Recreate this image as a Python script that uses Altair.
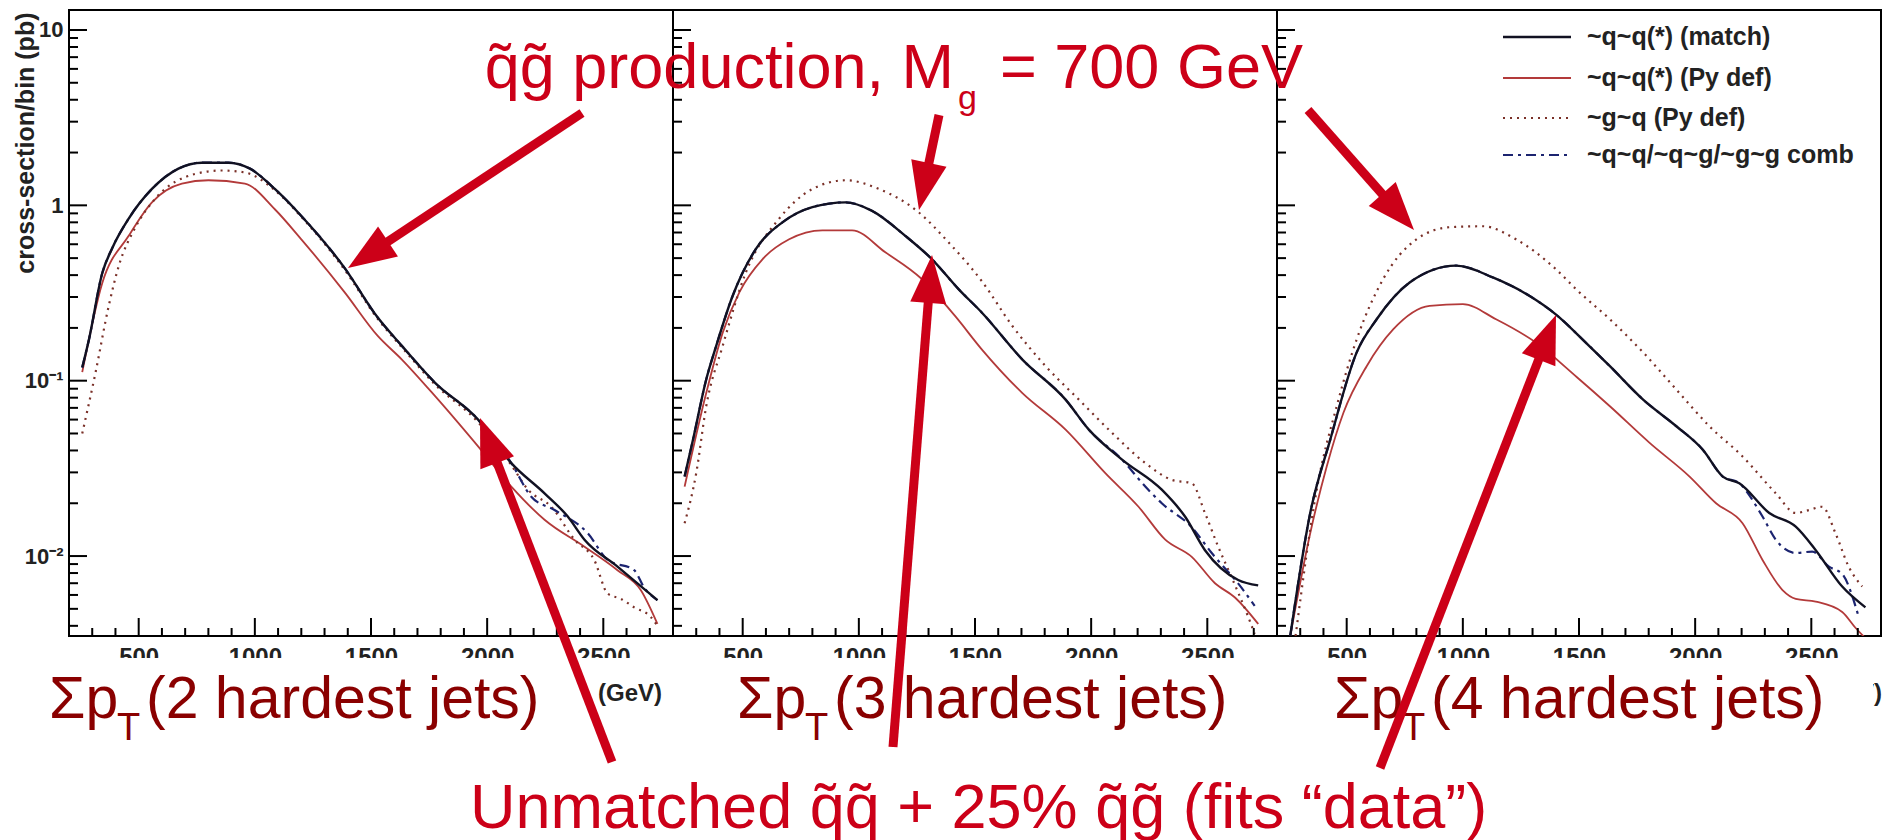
import math
import altair as alt
import pandas as pd

# ---------------- data ----------------
# Σp_T in GeV  ->  cross-section/bin in pb
# panel 0 : 2 hardest jets
match_2j_x = [257, 286, 343, 386, 457, 557, 671, 771, 886, 979, 1086, 1200, 1386, 1529, 1633, 1776, 1961, 2104, 2247, 2347, 2419, 2561, 2733]
match_2j_y = [0.119, 0.172, 0.41, 0.57, 0.84, 1.24, 1.62, 1.75, 1.75, 1.62, 1.24, 0.87, 0.44, 0.229, 0.158, 0.0973, 0.06, 0.0339, 0.0228, 0.0168, 0.0124, 0.0087, 0.0056]
pydef_2j_x = [257, 343, 457, 557, 686, 800, 957, 1086, 1200, 1386, 1529, 1633, 1776, 1961, 2104, 2247, 2419, 2561, 2661, 2733]
pydef_2j_y = [0.112, 0.36, 0.67, 1.04, 1.33, 1.39, 1.33, 0.95, 0.64, 0.32, 0.18, 0.132, 0.0816, 0.0422, 0.0249, 0.0161, 0.0113, 0.0083, 0.0064, 0.0041]
gq_2j_x = [257, 314, 371, 414, 486, 571, 743, 857, 957, 1086, 1200, 1386, 1529, 1633, 1776, 1961, 2104, 2176, 2276, 2376, 2461, 2519, 2576, 2633, 2704, 2733]
gq_2j_y = [0.05, 0.111, 0.267, 0.45, 0.75, 1.09, 1.51, 1.58, 1.54, 1.22, 0.86, 0.43, 0.225, 0.155, 0.095, 0.058, 0.033, 0.0239, 0.0191, 0.0124, 0.0095, 0.0061, 0.0057, 0.0051, 0.0045, 0.004]
comb_2j_x = [257, 286, 343, 386, 457, 557, 671, 771, 886, 979, 1086, 1200, 1386, 1529, 1633, 1776, 1961, 2104, 2190, 2290, 2433, 2519, 2633, 2676, 2733]
comb_2j_y = [0.119, 0.172, 0.41, 0.57, 0.84, 1.24, 1.62, 1.75, 1.75, 1.62, 1.24, 0.87, 0.44, 0.229, 0.158, 0.0973, 0.06, 0.0339, 0.0218, 0.0183, 0.0135, 0.0095, 0.0083, 0.0066, 0.0056]

# panel 1 : 3 hardest jets
match_3j_x = [250, 286, 343, 386, 457, 557, 671, 800, 943, 1057, 1200, 1314, 1429, 1529, 1704, 1890, 1990, 2133, 2304, 2404, 2490, 2633, 2719]
match_3j_y = [0.0284, 0.046, 0.1016, 0.158, 0.305, 0.564, 0.80, 0.977, 1.04, 0.93, 0.67, 0.494, 0.333, 0.245, 0.132, 0.078, 0.0526, 0.0355, 0.0239, 0.0168, 0.0108, 0.0073, 0.0068]
pydef_3j_x = [250, 343, 414, 486, 586, 700, 843, 971, 1114, 1271, 1414, 1529, 1704, 1890, 2061, 2204, 2319, 2433, 2533, 2619, 2719]
pydef_3j_y = [0.0249, 0.085, 0.188, 0.32, 0.494, 0.64, 0.72, 0.72, 0.54, 0.38, 0.234, 0.151, 0.085, 0.0526, 0.0297, 0.0191, 0.0124, 0.0099, 0.0070, 0.0058, 0.0041]
gq_3j_x = [250, 300, 343, 414, 514, 657, 800, 943, 1086, 1257, 1386, 1529, 1661, 1804, 1947, 2090, 2233, 2347, 2433, 2490, 2547, 2604, 2676, 2704]
gq_3j_y = [0.0154, 0.0297, 0.0715, 0.158, 0.415, 0.84, 1.24, 1.39, 1.24, 0.914, 0.615, 0.37, 0.205, 0.121, 0.078, 0.0504, 0.0339, 0.0272, 0.026, 0.0176, 0.0113, 0.0076, 0.0045, 0.0036]
comb_3j_x = [250, 286, 343, 386, 457, 557, 671, 800, 943, 1057, 1200, 1314, 1429, 1529, 1704, 1890, 1990, 2133, 2233, 2304, 2433, 2519, 2647, 2704]
comb_3j_y = [0.0284, 0.046, 0.1016, 0.158, 0.305, 0.564, 0.80, 0.977, 1.04, 0.93, 0.67, 0.494, 0.333, 0.245, 0.132, 0.078, 0.0526, 0.0355, 0.0249, 0.02, 0.0146, 0.0104, 0.0066, 0.0052]

# panel 2 : 4 hardest jets
match_4j_x = [257, 343, 429, 543, 629, 771, 971, 1129, 1286, 1400, 1529, 1633, 1776, 1919, 2033, 2119, 2190, 2319, 2433, 2519, 2633, 2733]
match_4j_y = [0.0035, 0.0176, 0.046, 0.145, 0.224, 0.363, 0.453, 0.388, 0.305, 0.239, 0.165, 0.121, 0.078, 0.055, 0.0404, 0.0284, 0.026, 0.0176, 0.0147, 0.0108, 0.0067, 0.0051]
pydef_4j_x = [257, 343, 414, 486, 586, 700, 857, 1000, 1143, 1314, 1490, 1633, 1804, 1976, 2090, 2204, 2290, 2376, 2433, 2519, 2633, 2690, 2733]
pydef_4j_y = [0.0035, 0.0135, 0.0324, 0.0656, 0.121, 0.196, 0.267, 0.273, 0.224, 0.165, 0.105, 0.0715, 0.0442, 0.0284, 0.02, 0.0154, 0.0095, 0.0064, 0.0057, 0.0055, 0.0048, 0.0039, 0.0034]
gq_4j_x = [280, 371, 457, 543, 657, 800, 943, 1086, 1229, 1400, 1490, 1633, 1776, 1919, 2061, 2204, 2347, 2433, 2490, 2547, 2604, 2661, 2719]
gq_4j_y = [0.0035, 0.0239, 0.0715, 0.172, 0.38, 0.64, 0.75, 0.76, 0.64, 0.433, 0.33, 0.224, 0.145, 0.089, 0.055, 0.037, 0.0228, 0.0176, 0.0183, 0.0191, 0.0135, 0.0087, 0.0067]
comb_4j_x = [257, 343, 429, 543, 629, 771, 971, 1129, 1286, 1400, 1529, 1633, 1776, 1919, 2033, 2119, 2190, 2290, 2347, 2433, 2504, 2576, 2633, 2704]
comb_4j_y = [0.0035, 0.0176, 0.046, 0.145, 0.224, 0.363, 0.453, 0.388, 0.305, 0.239, 0.165, 0.121, 0.078, 0.055, 0.0404, 0.0284, 0.026, 0.0168, 0.0124, 0.0104, 0.0106, 0.0087, 0.0079, 0.0045]

x_tick_labels = [500, 1000, 1500, 2000, 2500]
y_tick_values = [0.01, 0.1, 1, 10]
legend_labels = ["~q~q(*) (match)", "~q~q(*) (Py def)", "~g~q (Py def)", "~q~q/~q~g/~g~g comb"]
panel_jets = ["2", "3", "4"]

# ---------------- table ----------------
series_lists = {
    "match": [(match_2j_x, match_2j_y), (match_3j_x, match_3j_y), (match_4j_x, match_4j_y)],
    "pydef": [(pydef_2j_x, pydef_2j_y), (pydef_3j_x, pydef_3j_y), (pydef_4j_x, pydef_4j_y)],
    "gq": [(gq_2j_x, gq_2j_y), (gq_3j_x, gq_3j_y), (gq_4j_x, gq_4j_y)],
    "comb": [(comb_2j_x, comb_2j_y), (comb_3j_x, comb_3j_y), (comb_4j_x, comb_4j_y)],
}
rows = []
for s, panels in series_lists.items():
    for p, (xs, ys) in enumerate(panels):
        for gev, v in zip(xs, ys):
            rows.append({"series": s, "panel": p, "gev": gev, "val": v})
df = pd.DataFrame(rows)

SPAN = 2600   # GeV per panel (200 .. 2800)
W, H = 1812, 626
XD = [0, 3 * SPAN]
YD = [0.0035, 13]
xscale = alt.Scale(domain=XD, nice=False, zero=False)
yscale = alt.Scale(type="log", domain=YD, nice=False)
FONT = "Liberation Sans"
RED = "#cc0018"
DARKRED = "#8a0000"
TXT = "#222222"

styles = {
    "match": dict(color="#111122", strokeWidth=2.4),
    "pydef": dict(color="#b33a3a", strokeWidth=1.8),
    "gq": dict(color="#7a3028", strokeWidth=2.2, strokeDash=[2, 5]),
    "comb": dict(color="#1c2470", strokeWidth=2.2, strokeDash=[10, 5, 3, 5]),
}

gx_expr = f"datum.panel*{SPAN} + datum.gev - 200"

x_axis = alt.Axis(
    values=[p * SPAN + v - 200 for p in range(3) for v in x_tick_labels],
    labelExpr=f"(datum.value % {SPAN}) + 200",
    ticks=False, domain=False, grid=False, title=None,
    labelFontSize=24, labelFontWeight="bold", labelColor=TXT, labelFont=FONT,
    labelPadding=9, labelFlush=False, labelOverlap=False, zindex=0,
)
y_axis = alt.Axis(
    values=y_tick_values,
    labelExpr="datum.value >= 9 ? '10' : datum.value >= 0.9 ? '1' : datum.value >= 0.09 ? '10\u207b\u00b9' : '10\u207b\u00b2'",
    ticks=False, domain=False, grid=False,
    labelFontSize=22, labelFontWeight="bold", labelColor=TXT, labelFont=FONT, labelPadding=6,
    title="cross-section/bin (pb)", titleFontSize=25, titleFontWeight="bold", titleColor=TXT,
    titleFont=FONT, titleAngle=270, titleX=-44, titleY=2, titleAlign="right", titleBaseline="middle",
    zindex=0,
)


def X(field):
    return alt.X(field, scale=xscale, axis=x_axis)


def Y(field):
    return alt.Y(field, scale=yscale, axis=y_axis)


layers = []
base = alt.Chart(df).transform_calculate(gx=gx_expr)
for s in ["pydef", "gq", "comb", "match"]:
    layers.append(
        base.transform_filter(alt.datum.series == s)
        .mark_line(clip=True, interpolate="monotone", **styles[s])
        .encode(x=X("gx:Q"), y=Y("val:Q"), detail="panel:N", order="gev:Q")
    )

# inward tick marks
ytick_rows = []
for p in range(3):
    for e in [-3, -2, -1, 0, 1]:
        for m in range(1, 10):
            v = m * 10 ** e
            if YD[0] <= v <= YD[1]:
                ytick_rows.append({"gx": p * SPAN, "val": v, "major": m == 1})
ytick_df = pd.DataFrame(ytick_rows)
for major, length in [(True, 18), (False, 9)]:
    layers.append(
        alt.Chart(ytick_df[ytick_df.major == major])
        .mark_rule(color="black", strokeWidth=2, x2Offset=length)
        .encode(x=X("gx:Q"), x2="gx:Q", y=Y("val:Q"))
    )
xtick_rows = []
for p in range(3):
    for v in range(300, 2800, 100):
        xtick_rows.append({"gx": p * SPAN + v - 200, "major": v % 500 == 0})
xtick_df = pd.DataFrame(xtick_rows)
for major, length in [(True, 18), (False, 8)]:
    layers.append(
        alt.Chart(xtick_df[xtick_df.major == major])
        .mark_rule(color="black", strokeWidth=2)
        .encode(x=X("gx:Q"), y=alt.value(H), y2=alt.value(H - length))
    )
# panel separators
layers.append(
    alt.Chart(pd.DataFrame({"gx": [SPAN, 2 * SPAN]}))
    .mark_rule(color="black", strokeWidth=2)
    .encode(x=X("gx:Q"))
)

one = alt.InlineData(values=[{"k": 0}])


def rect(x1, x2, y1, y2):
    return alt.Chart(one).mark_rect(color="white").encode(
        x=alt.value(x1), x2=alt.value(x2), y=alt.value(y1), y2=alt.value(y2))


def text(s, x, y, size, color, align="left", weight="normal"):
    return alt.Chart(one).mark_text(
        text=s, align=align, baseline="alphabetic", fontSize=size, color=color,
        font=FONT, fontWeight=weight).encode(x=alt.value(x), y=alt.value(y))


# white boxes behind the big labels
layers.append(rect(-69, W + 9, 648, 775))
layers.append(text("(GeV)", 529, 691, 24, TXT, weight="bold"))
layers.append(text("(GeV)", 1813, 691, 24, TXT, align="right", weight="bold"))
layers.append(rect(1220, 1804, 660, 720))

# legend
leg_y = [27, 68, 108, 145]
for i, s in enumerate(["match", "pydef", "gq", "comb"]):
    layers.append(
        alt.Chart(one).mark_rule(**styles[s]).encode(
            x=alt.value(1434), x2=alt.value(1502), y=alt.value(leg_y[i]), y2=alt.value(leg_y[i]))
    )
    layers.append(text(legend_labels[i], 1518, leg_y[i] + 8, 25, TXT, weight="bold"))

# headline
layers.append(text("q\u0303g\u0303 production, M", 885, 78, 63, RED, align="right"))
layers.append(text("g", 889, 99, 34, RED))
layers.append(text("= 700 GeV", 931, 78, 63, RED))

# Σp_T labels
sig_x = [-20, 668, 1265]
for i, n in enumerate(panel_jets):
    x0 = sig_x[i]
    layers.append(text("\u03a3p", x0, 708, 59, DARKRED))
    layers.append(text("T", x0 + 68, 730, 38, DARKRED))
    layers.append(text(f"({n} hardest jets)", x0 + 97, 708, 59, DARKRED))

layers.append(text("Unmatched q\u0303q\u0303 + 25% q\u0303g\u0303 (fits \u201cdata\u201d)", 401, 818, 63, RED))

# arrows (tail -> tip), plot-area pixels
arrows = [
    ((513, 103), (279, 258)),
    ((870, 105), (850, 200)),
    ((1239, 100), (1345, 220)),
    ((543, 752), (411, 408)),
    ((824, 737), (863, 245)),
    ((1311, 758), (1487, 305)),
]
HEAD = 48
for (tx, ty), (hx, hy) in arrows:
    dx, dy = hx - tx, hy - ty
    L = math.hypot(dx, dy)
    ux, uy = dx / L, dy / L
    cx, cy = hx - ux * HEAD / 2, hy - uy * HEAD / 2
    ang = math.degrees(math.atan2(dx, -dy)) % 360
    layers.append(
        alt.Chart(one).mark_rule(color=RED, strokeWidth=9, strokeCap="butt").encode(
            x=alt.value(tx), y=alt.value(ty), x2=alt.value(cx), y2=alt.value(cy))
    )
    layers.append(
        alt.Chart(one).mark_point(shape="M0,-1L0.75,1L-0.75,1Z", filled=True, fill=RED,
                                  strokeWidth=0, opacity=1, size=HEAD * HEAD, angle=ang)
        .encode(x=alt.value(cx), y=alt.value(cy))
    )

chart = (
    alt.layer(*layers)
    .properties(
        width=W, height=H,
        autosize=alt.AutoSizeParams(type="none"),
        padding={"left": 69, "top": 10, "right": 9, "bottom": 204},
        background="white",
    )
    .configure_view(stroke="black", strokeWidth=2)
)

chart.save("out.html", embed_options={"renderer": "svg", "actions": False})
